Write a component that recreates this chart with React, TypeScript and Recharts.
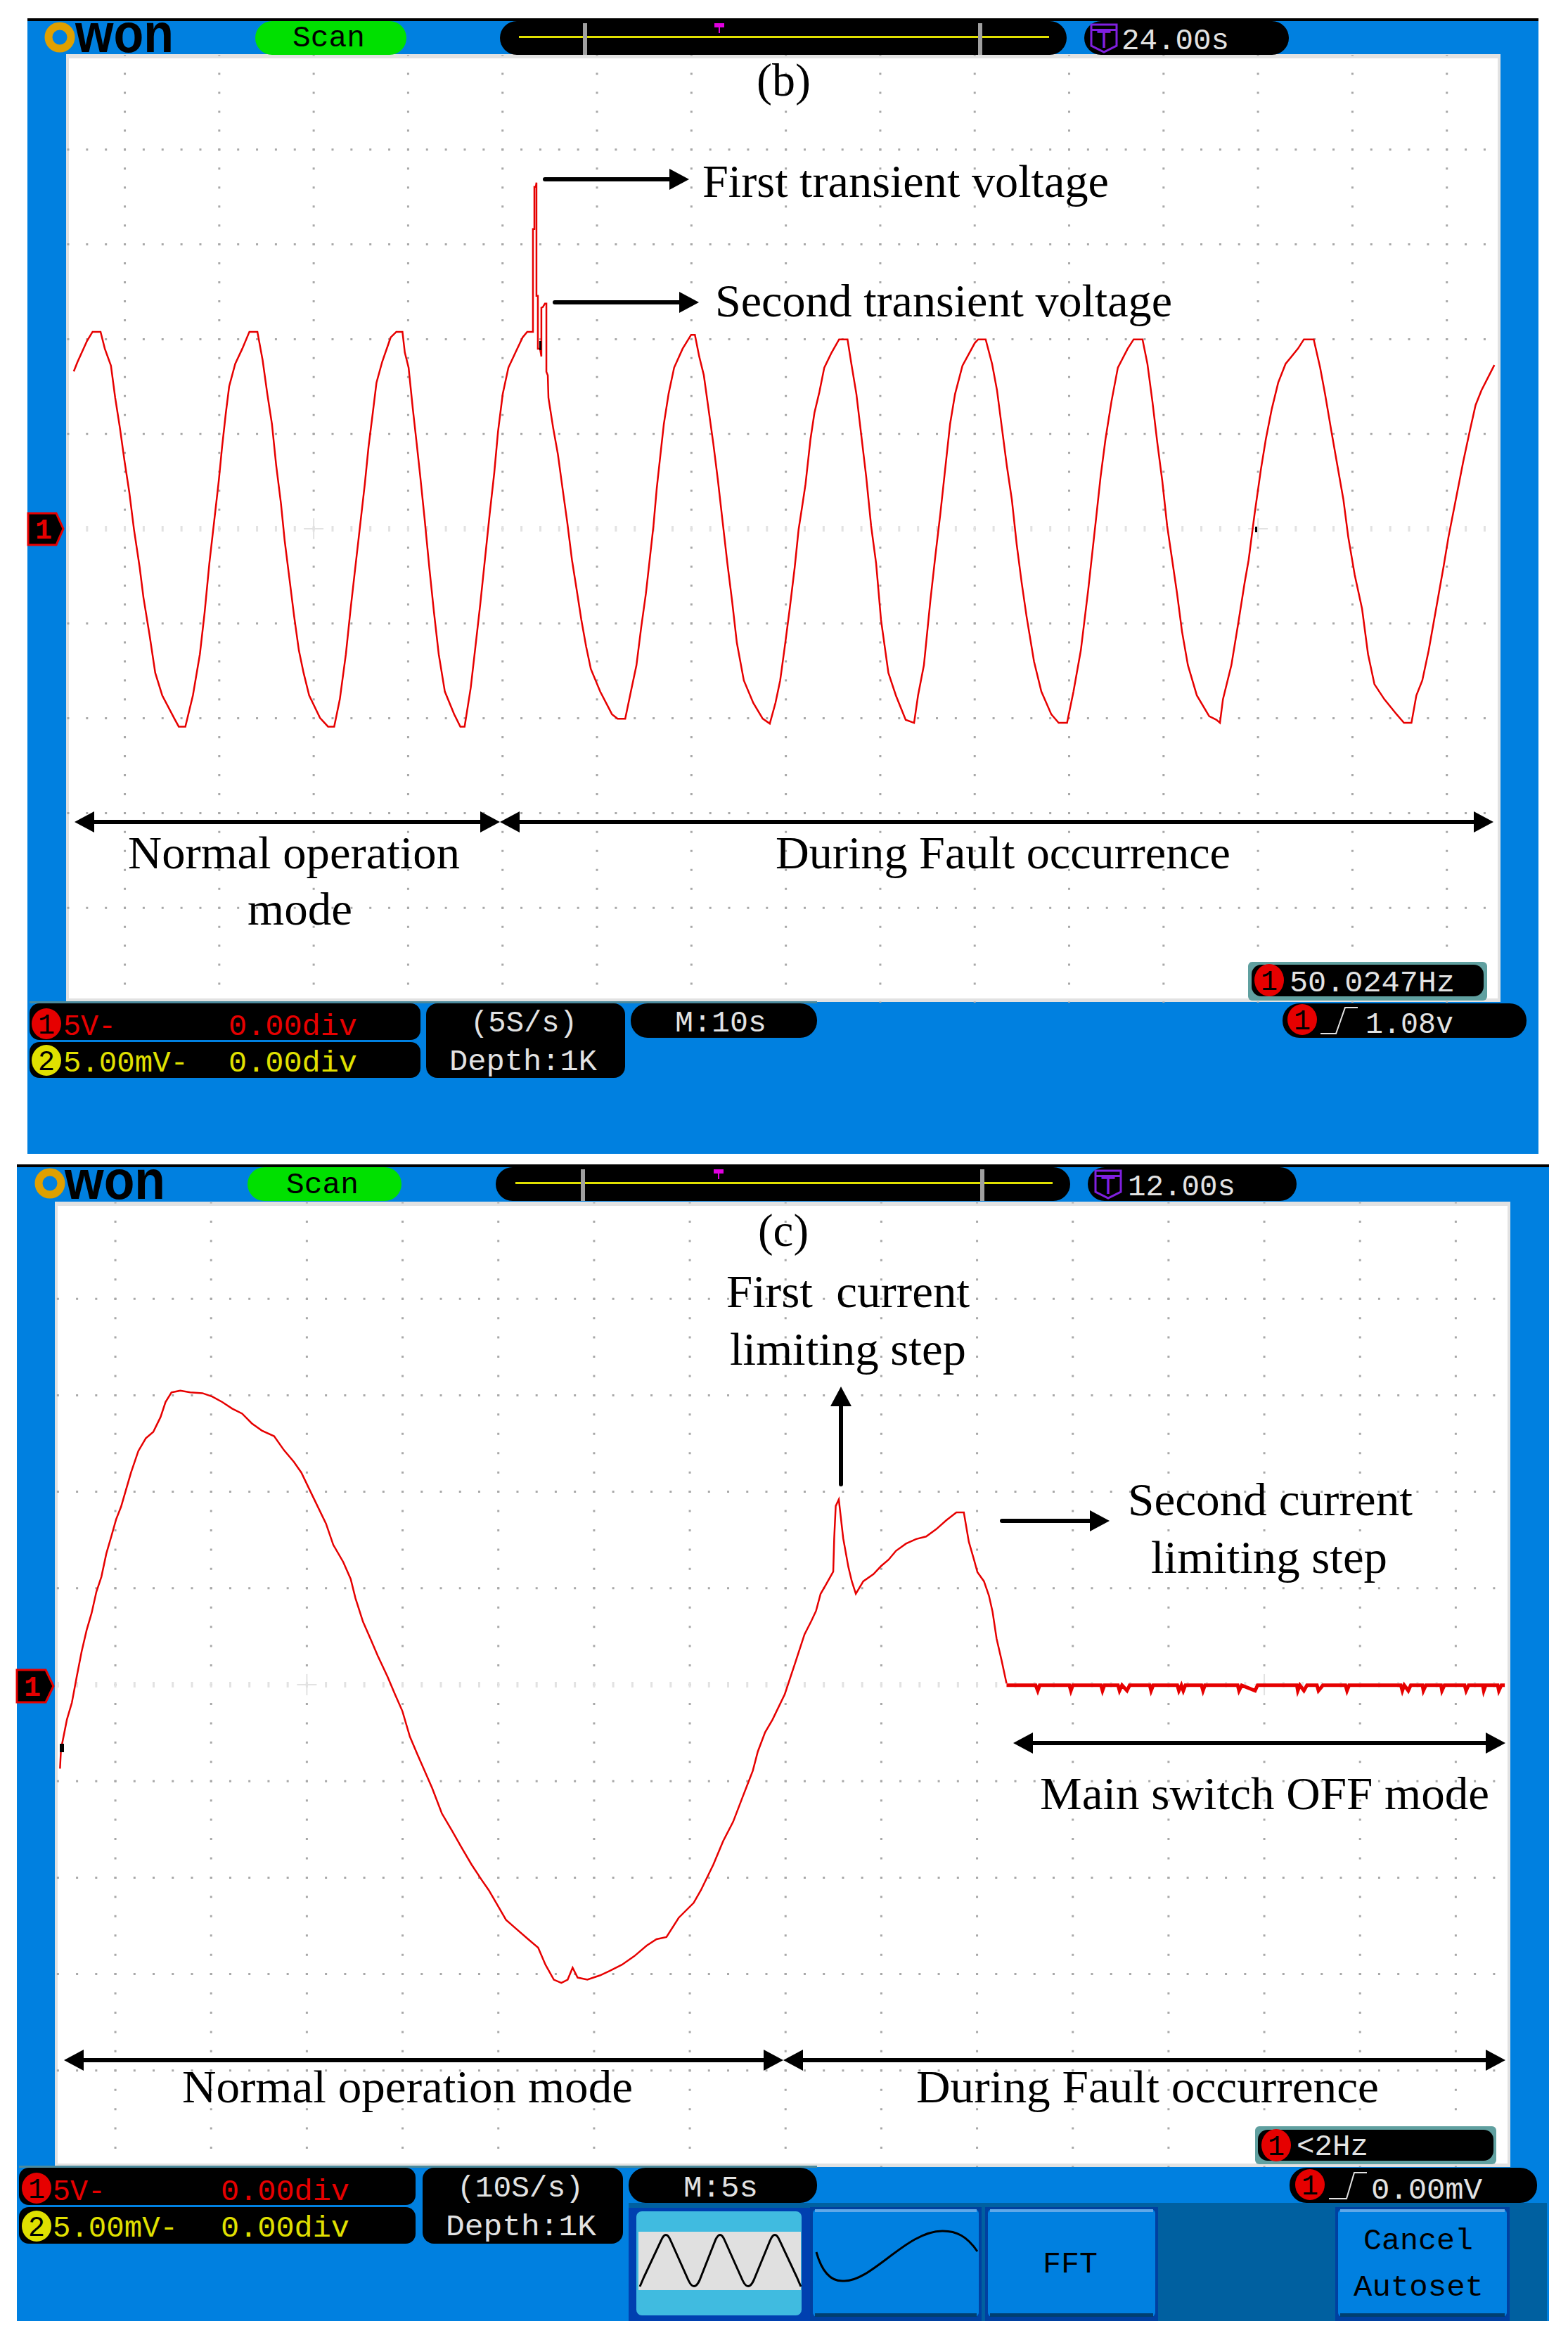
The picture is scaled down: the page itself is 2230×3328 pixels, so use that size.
import { LineChart, Line, XAxis, YAxis, CartesianGrid, ReferenceLine } from "recharts";

// panel (b): [seconds, volts]
const normalTraceB = [
  [0.81, 8.3], [1.21, 8.8], [2.21, 9.9], [2.8, 10.39], [3.65, 10.39], [4.1, 9.5], [4.75, 8.6], [5.2, 6.91], [5.7, 5.32], [6.2, 3.53],
  [6.69, 1.94], [7.19, -0.04], [7.79, -2.03], [8.19, -3.62], [8.84, -5.61], [9.44, -7.6], [10.18, -8.79], [11.43, -9.98], [11.93, -10.44], [12.63, -10.44],
  [13.43, -8.79], [14.17, -6.61], [14.67, -4.42], [15.17, -1.83], [15.67, 0.35], [16.17, 2.54], [16.52, 4.33], [16.92, 6.12], [17.27, 7.51], [17.91, 8.7],
  [18.66, 9.5], [19.41, 10.39], [20.26, 10.39], [20.81, 8.9], [21.31, 7.11], [21.8, 5.52], [22.25, 3.33], [22.75, 1.35], [23.15, -0.64], [23.65, -2.63],
  [24.15, -4.62], [24.65, -6.41], [25.15, -7.6], [25.74, -8.79], [26.89, -9.98], [27.74, -10.44], [28.39, -10.44], [28.99, -8.99], [29.63, -6.61], [30.13, -4.22],
  [30.63, -2.03], [31.13, 0.15], [31.63, 2.34], [32.03, 4.33], [32.48, 6.12], [32.87, 7.71], [33.47, 8.8], [34.37, 10.09], [34.97, 10.39], [35.62, 10.39],
  [35.87, 9.3], [36.27, 8.5], [36.72, 6.32], [37.12, 4.53], [37.51, 2.74], [37.96, 0.55], [38.46, -2.03], [38.96, -4.42], [39.46, -6.61], [40.11, -8.59],
  [41.1, -9.79], [41.75, -10.44], [42.2, -10.44], [42.85, -8.39], [43.35, -6.21], [43.85, -4.02], [44.35, -1.64], [44.85, 0.75], [45.34, 2.94], [45.74, 5.12],
  [46.24, 7.11], [46.84, 8.5], [47.59, 9.3], [48.34, 10.09], [48.83, 10.39],
];
const spikeTraceB = [
  [49.44, 10.39], [49.44, 15.81], [49.59, 15.81], [49.59, 18.04], [49.74, 18.04], [49.81, 18.26], [49.81, 12.29], [49.96, 12.29], [49.96, 9.5], [50.19, 9.5],
  [50.33, 9.09], [50.33, 11.66], [50.48, 11.69], [50.71, 11.88], [50.86, 11.88], [50.86, 8.28], [51.01, 8.09],
];
const faultTraceB = [
  [51.08, 6.91], [51.58, 5.32], [52.08, 3.93], [52.57, 2.14], [53.07, 0.35], [53.57, -1.64], [54.07, -3.22], [54.57, -4.82], [55.07, -6.21], [55.57, -7.4],
  [56.56, -8.59], [57.81, -9.79], [58.41, -10.02], [59.21, -10.02], [59.81, -8.59], [60.4, -7.2], [60.9, -5.21], [61.4, -3.42], [61.8, -1.64], [62.2, 0.15],
  [62.55, 2.14], [62.9, 3.73], [63.3, 5.52], [63.8, 7.11], [64.39, 8.5], [65.29, 9.5], [66.19, 10.23], [66.59, 10.23], [67.04, 9.1], [67.53, 8.11],
  [68.03, 6.32], [68.53, 4.53], [69.03, 2.54], [69.53, 0.35], [70.03, -1.83], [70.53, -3.82], [71.03, -6.01], [71.77, -8.0], [72.77, -9.19], [73.77, -10.02],
  [74.52, -10.28], [75.12, -9.19], [75.62, -8.0], [76.11, -6.21], [76.63, -4.22], [77.16, -2.03], [77.57, -0.04], [77.94, 1.15], [78.3, 2.34], [78.83, 4.73],
  [79.25, 6.12], [79.77, 7.21], [80.29, 8.5], [81.07, 9.3], [81.86, 9.99], [82.75, 9.99], [83.16, 8.7], [83.69, 7.11], [84.21, 4.93], [84.73, 2.74],
  [85.25, 0.15], [85.78, -1.83], [86.3, -4.82], [87.08, -7.6], [87.87, -8.79], [88.91, -10.08], [89.8, -10.24], [90.22, -8.79], [90.84, -7.2], [91.52, -3.82],
  [92.05, -1.44], [92.57, 0.75], [93.09, 3.14], [93.61, 5.52], [94.14, 7.11], [94.92, 8.6], [96.23, 9.8], [96.59, 9.99], [97.38, 9.99], [98.06, 8.7],
  [98.58, 7.31], [99.1, 5.32], [99.62, 3.33], [100.15, 1.55], [100.67, -0.84], [101.19, -2.83], [101.71, -4.62], [102.5, -7.0], [103.28, -8.59], [104.33, -9.79],
  [105.11, -10.24], [106.0, -10.24], [106.68, -8.59], [107.46, -6.41], [108.24, -3.22], [109.03, 0.35], [109.55, 2.74], [110.07, 4.73], [110.7, 6.71], [111.38, 8.5],
  [112.42, 9.5], [113.05, 9.99], [113.99, 9.99], [114.51, 8.7], [115.04, 6.71], [115.56, 4.53], [116.08, 2.54], [116.6, 0.15], [117.13, -1.64], [117.65, -3.42],
  [118.17, -5.41], [118.8, -7.2], [119.74, -8.79], [121.05, -9.89], [121.83, -10.08], [122.19, -10.24], [122.51, -8.99], [123.4, -7.2], [124.18, -4.82], [124.81, -2.83],
  [125.23, -1.64], [125.85, 0.75], [126.53, 3.14], [127.05, 4.73], [127.68, 6.32], [128.36, 7.71], [129.14, 8.7], [130.45, 9.5], [131.08, 9.99], [132.12, 9.99],
  [132.8, 8.5], [133.32, 7.11], [134.0, 5.12], [134.63, 3.33], [135.26, 1.55], [135.78, -0.44], [136.46, -2.43], [137.24, -4.22], [137.87, -6.61], [138.55, -8.2],
  [139.59, -8.99], [140.9, -9.79], [141.68, -10.24], [142.47, -10.24], [142.99, -8.79], [143.62, -8.0], [144.3, -6.41], [145.08, -4.22], [145.86, -2.03], [146.39, -0.44],
  [147.17, 1.55], [147.95, 3.53], [148.63, 5.12], [149.26, 6.52], [149.89, 7.31], [151.25, 8.64],
];

// panel (c): [seconds, volts]
const normalTraceC = [
  [0.27, -4.35], [0.32, -3.36], [0.63, -1.81], [0.89, -0.93], [1.14, 0.4], [1.4, 1.72], [1.66, 2.83], [1.92, 3.71], [2.17, 4.82], [2.43, 5.59],
  [2.69, 6.8], [2.95, 7.69], [3.2, 8.57], [3.46, 9.23], [3.72, 10.12], [3.98, 11.0], [4.36, 12.11], [4.75, 12.77], [5.14, 13.1], [5.52, 13.87],
  [5.78, 14.65], [6.09, 15.15], [6.55, 15.24], [7.07, 15.15], [7.71, 15.11], [8.23, 14.93], [8.74, 14.65], [9.26, 14.31], [9.78, 14.05], [10.29, 13.54],
  [10.81, 13.17], [11.45, 12.88], [11.97, 12.15], [12.48, 11.55], [12.87, 11.0], [13.51, 9.68], [14.16, 8.35], [14.54, 7.25], [15.06, 6.36], [15.45, 5.48],
  [15.7, 4.48], [16.09, 3.27], [16.48, 2.39], [16.86, 1.5], [17.38, 0.4], [17.76, -0.49], [18.15, -1.37], [18.54, -2.69], [18.92, -3.58], [19.31, -4.46],
  [19.7, -5.35], [20.21, -6.67], [20.73, -7.55], [21.24, -8.44], [21.76, -9.32], [22.27, -10.09], [22.66, -10.65], [23.05, -11.31], [23.56, -12.19], [24.08, -12.64],
  [24.72, -13.19], [25.24, -13.63], [25.62, -14.51], [26.06, -15.29], [26.45, -15.46], [26.78, -15.29], [27.04, -14.67], [27.3, -15.18], [27.81, -15.29], [28.46, -15.07],
  [28.97, -14.84], [29.62, -14.51], [30.26, -14.07], [30.91, -13.52], [31.42, -13.19], [31.94, -13.08], [32.58, -12.08], [33.36, -11.31], [33.74, -10.65], [34.39, -9.32],
  [34.9, -8.11], [35.42, -7.11], [35.93, -5.79], [36.45, -4.46], [36.71, -3.47], [37.09, -2.47], [37.48, -1.81], [38.12, -0.49], [38.64, 1.06], [39.15, 2.61],
  [39.49, 3.27], [39.75, 3.82],
];
const limitingTraceC = [
  [39.99, 4.71], [40.26, 5.17], [40.65, 5.86], [40.7, 7.59], [40.78, 9.26], [40.94, 9.6], [41.17, 7.59], [41.44, 6.1], [41.62, 5.36], [41.83, 4.71],
  [42.22, 5.36], [42.75, 5.73], [43.14, 6.14], [43.54, 6.48], [43.93, 6.94], [44.45, 7.31], [44.98, 7.55], [45.5, 7.68], [46.03, 8.06], [46.55, 8.52],
  [47.08, 8.93], [47.47, 8.93], [47.73, 7.41], [48.0, 6.48], [48.18, 5.83], [48.52, 5.36], [48.78, 4.62], [48.97, 3.78], [49.18, 2.39], [49.44, 1.27], [49.7, 0.06],
];
const offTraceC = [
  [49.7, -0.03], [51.22, -0.03], [51.33, -0.31], [51.43, -0.03], [52.98, -0.03], [53.06, -0.31], [53.16, -0.03], [54.63, -0.03], [54.71, -0.31], [54.81, -0.03],
  [55.52, -0.03], [55.6, -0.31], [55.73, -0.03], [55.99, -0.31], [56.13, -0.03], [57.18, -0.03], [57.25, -0.31], [57.36, -0.03], [58.62, -0.03], [58.7, -0.31],
  [58.83, -0.03], [58.93, -0.31], [59.04, -0.03], [59.88, -0.03], [59.96, -0.31], [60.06, -0.03], [61.77, -0.03], [61.84, -0.31], [61.98, -0.03], [62.68, -0.31],
  [62.81, -0.03], [64.86, -0.03], [64.91, -0.31], [65.02, -0.03], [65.23, -0.31], [65.39, -0.03], [65.91, -0.03], [65.99, -0.31], [66.22, -0.03], [67.4, -0.03],
  [67.48, -0.31], [67.59, -0.03], [70.29, -0.03], [70.37, -0.31], [70.47, -0.03], [70.68, -0.31], [70.81, -0.03], [71.42, -0.03], [71.47, -0.31], [71.6, -0.03],
  [72.39, -0.03], [72.44, -0.31], [72.57, -0.03], [73.62, -0.03], [73.7, -0.31], [73.83, -0.03], [74.57, -0.03], [74.62, -0.31], [74.72, -0.03], [75.35, -0.03],
  [75.41, -0.31], [75.54, -0.03], [75.72, -0.03],
];

const rows = (pairs: number[][]) => pairs.map(([t, v]) => ({ t, v }));
const range = (start: number, step: number, count: number) =>
  Array.from({ length: count }, (_, i) => +(start + i * step).toFixed(3));

const voltTicks = range(-24, 1, 49);
const voltMajors = [-20, -15, -10, -5, 5, 10, 15, 20];

const BLUE = "#0080e0";
const RED = "#e60000";
const YELLOW = "#e0e000";
const PALE = "#e2e2e2";
const MONO = "'Liberation Mono', monospace";
const SERIF = "'Liberation Serif', serif";

function ScopeScreen({ x, y, w, h, xMax, base, step, crosses, children }: any) {
  const minorStep = step / 5;
  const majors = range(base, step, Math.floor((xMax - base) / step) + 1);
  const first = base % minorStep;
  const minors = range(first, minorStep, Math.floor((xMax - first) / minorStep) + 1);
  const xPeriod = (w / xMax) * minorStep;
  const yPeriod = h / 50;
  const xOffset = xPeriod - ((first / xMax) * w - 1.5);
  const isMajor = (t: number) => majors.some((m) => Math.abs(m - t) < 0.01);

  const xRuler = (dir: number) => (p: any) => {
    const len = isMajor(p.payload.value) ? 19 : 11;
    return <line x1={p.x} x2={p.x} y1={p.y} y2={p.y + dir * len} stroke={PALE} strokeWidth={2} />;
  };
  const yRuler = (dir: number, major: number, minor: number) => (p: any) => {
    const len = p.payload.value === 0 || voltMajors.includes(p.payload.value) ? major : minor;
    return <line x1={p.x} x2={p.x + dir * len} y1={p.y} y2={p.y} stroke={PALE} strokeWidth={2} />;
  };

  return (
    <div style={{ position: "absolute", left: x, top: y }}>
      <LineChart width={w} height={h} margin={{ top: 0, right: 0, bottom: 0, left: 0 }}>
        <XAxis xAxisId={0} orientation="bottom" type="number" dataKey="t" domain={[0, xMax]} ticks={minors} interval={0} height={0}
          tickSize={0} tickMargin={0} axisLine={false} tickLine={false} tick={xRuler(-1)} />
        <XAxis xAxisId="top" orientation="top" type="number" dataKey="t" domain={[0, xMax]} ticks={minors} interval={0} height={0}
          tickSize={0} tickMargin={0} axisLine={false} tickLine={false} tick={xRuler(1)} />
        <YAxis yAxisId={0} orientation="left" type="number" domain={[-25, 25]} ticks={voltTicks} interval={0} width={0}
          tickSize={0} tickMargin={0} axisLine={false} tickLine={false} tick={yRuler(1, 19, 12)} />
        <YAxis yAxisId="right" orientation="right" type="number" domain={[-25, 25]} ticks={voltTicks} interval={0} width={0}
          tickSize={0} tickMargin={0} axisLine={false} tickLine={false} tick={yRuler(-1, 24, 14)} />
        <CartesianGrid vertical={false} horizontalValues={voltMajors} stroke="#a8a8a8" strokeWidth={3}
          strokeDasharray={`3 ${xPeriod - 3}`} strokeDashoffset={xOffset} />
        <CartesianGrid horizontal={false} verticalValues={majors} stroke="#a8a8a8" strokeWidth={3}
          strokeDasharray={`3 ${yPeriod - 3}`} strokeDashoffset={1.5} />
        <ReferenceLine y={0} stroke={PALE} strokeWidth={8} strokeDasharray={`3 ${xPeriod - 3}`} strokeDashoffset={xOffset} />
        {crosses.map((c: number) => (
          <ReferenceLine key={`h${c}`} segment={[{ x: c - (14 / w) * xMax, y: 0 }, { x: c + (14 / w) * xMax, y: 0 }]} stroke={PALE} strokeWidth={2} />
        ))}
        {crosses.map((c: number) => (
          <ReferenceLine key={`v${c}`} segment={[{ x: c, y: -0.55 }, { x: c, y: 0.55 }]} stroke={PALE} strokeWidth={2} />
        ))}
        {children}
      </LineChart>
    </div>
  );
}

function Label({ x, y, w, children, fill = "#000", size = 42, font = MONO, weight = 400 }: any) {
  return (
    <text x={x} y={y} fill={fill} fontFamily={font} fontSize={size} fontWeight={weight} textLength={w} lengthAdjust="spacingAndGlyphs" style={{ whiteSpace: "pre" }}>
      {children}
    </text>
  );
}

const Note = ({ x, y, w, children }: any) => (
  <Label x={x} y={y} w={w} size={66} font={SERIF}>{children}</Label>
);

function HArrow({ x1, x2, y, both }: any) {
  const head = 28;
  return (
    <g fill="#000">
      <line x1={both ? x1 + 10 : x1} x2={x2 - 10} y1={y} y2={y} stroke="#000" strokeWidth={6} strokeLinecap={both ? "butt" : "round"} />
      <polygon points={`${x2},${y} ${x2 - head},${y - 15} ${x2 - head},${y + 15}`} />
      {both && <polygon points={`${x1},${y} ${x1 + head},${y - 15} ${x1 + head},${y + 15}`} />}
    </g>
  );
}

function UpArrow({ x, y1, y2 }: any) {
  return (
    <g fill="#000">
      <line x1={x} x2={x} y1={y1} y2={y2 + 10} stroke="#000" strokeWidth={6} strokeLinecap="round" />
      <polygon points={`${x},${y2} ${x - 15},${y2 + 28} ${x + 15},${y2 + 28}`} />
    </g>
  );
}

const Pill = ({ x, y, w, h, r = 22, fill = "#000" }: any) => <rect x={x} y={y} width={w} height={h} rx={r} ry={r} fill={fill} />;

function Badge({ cx, cy, rx = 21, ry = 22, fill = RED, n = "1" }: any) {
  return (
    <g>
      <ellipse cx={cx} cy={cy} rx={rx} ry={ry} fill={fill} />
      <text x={cx} y={cy + 14} textAnchor="middle" fontFamily={MONO} fontSize={40} fill="#000">{n}</text>
    </g>
  );
}

function Logo({ cx, cy, x, base, w }: any) {
  return (
    <g>
      <ellipse cx={cx} cy={cy} rx={16} ry={16} fill="none" stroke="#e0a000" strokeWidth={11} />
      <Label x={x} y={base} w={w} size={78} weight={700} font="'Liberation Sans', sans-serif">won</Label>
    </g>
  );
}

function TopBar({ left, right, y, logo, scan, scanText, track, line, marks, marker, tPill, shield, time, timeText }: any) {
  const top = y + 4;
  const h = 48;
  return (
    <g>
      <rect x={left} y={y} width={right - left} height={4} fill="#000" />
      <Logo {...logo} />
      <Pill x={scan[0]} y={top} w={scan[1]} h={h} r={24} fill="#00e000" />
      <Label x={scanText[0]} y={scanText[1]} w={103}>Scan</Label>
      <Pill x={track[0]} y={top} w={track[1]} h={h} r={24} />
      <rect x={line[0]} y={top + 21} width={line[1]} height={3} fill={YELLOW} />
      {marks.map((m: number) => <rect key={m} x={m} y={top + 3} width={6} height={h - 3} fill="#a0a0a0" />)}
      <rect x={marker - 7} y={top + 3} width={14} height={6} fill="#e000e0" />
      <rect x={marker - 1} y={top + 3} width={2} height={14} fill="#e000e0" />
      <Pill x={tPill[0]} y={top} w={tPill[1]} h={h} r={24} />
      <path d={`M${shield} ${top + 5} h36 v30 l-18 9 l-18 -9 z`} fill="#000" stroke="#8020e0" strokeWidth={3} />
      <rect x={shield} y={top + 11} width={36} height={3} fill="#8020e0" />
      <text x={shield + 18} y={top + 38} textAnchor="middle" fontFamily={MONO} fontSize={36} fill="#8020e0">T</text>
      <Label x={time} y={top + 40} w={153} fill={PALE}>{timeText}</Label>
    </g>
  );
}

function Channels({ x, w, y1, y2, y3, col1, col2, b1, b2, c1, c2, centerX, centerW, rate, depth, rateB, depthB, m, mB, mPill, badgeX }: any) {
  return (
    <g>
      <rect x={x} y={y1 - 3} width={mPill[0] + mPill[1] - x} height={3} fill="#4c8a9c" />
      <Pill x={x} y={y1} w={w} h={y2 - y1 - 3} r={14} />
      <Pill x={x} y={y2} w={w} h={y3 - y2} r={14} />
      <Pill x={centerX} y={y1} w={centerW} h={y3 - y1} r={16} />
      <Pill x={mPill[0]} y={y1} w={mPill[1]} h={mPill[2]} r={24} />
      <Badge cx={badgeX} cy={c1} />
      <Badge cx={badgeX} cy={c2} fill={YELLOW} n="2" />
      <Label x={col1} y={b1} w={75} fill={RED}>5V-</Label>
      <Label x={col2} y={b1} w={183} fill={RED}>0.00div</Label>
      <Label x={col1} y={b2} w={178} fill={YELLOW}>5.00mV-</Label>
      <Label x={col2} y={b2} w={183} fill={YELLOW}>0.00div</Label>
      <Label x={rate[0]} y={rateB} w={rate[1]} fill={PALE}>{rate[2]}</Label>
      <Label x={depth[0]} y={depthB} w={depth[1]} fill={PALE}>Depth:1K</Label>
      <Label x={m[0]} y={mB} w={m[1]} fill={PALE}>{m[2]}</Label>
    </g>
  );
}

function Chrome() {
  return (
    <svg width={2230} height={3328} style={{ position: "absolute", left: 0, top: 0 }}>
      {/* panel (b) */}
      <TopBar left={39} right={2188} y={26} logo={{ cx: 85, cy: 53, x: 107, base: 74, w: 140 }} scan={[363, 215]} scanText={[416, 66]}
        track={[711, 806]} line={[738, 754]} marks={[829, 1391]} marker={1023} tPill={[1542, 291]} shield={1552} time={1595} timeText="24.00s" />
      <polygon points="40,730 80,730 90,752 80,775 40,775" fill="#000" stroke={RED} strokeWidth={3} />
      <text x={62} y={766} textAnchor="middle" fontFamily={MONO} fontSize={40} fontWeight={700} fill={RED}>1</text>
      <rect x={767} y={485} width={3} height={13} fill="#000" />
      <rect x={1785} y={749} width={3} height={8} fill="#000" />
      <Note x={1076} y={136} w={77}>(b)</Note>
      <HArrow x1={775} x2={980} y={255} />
      <Note x={999} y={280} w={578}>First transient voltage</Note>
      <HArrow x1={789} x2={994} y={430} />
      <Note x={1017} y={450} w={650}>Second transient voltage</Note>
      <HArrow x1={106} x2={711} y={1169} both />
      <HArrow x1={711} x2={2124} y={1169} both />
      <Note x={182} y={1235} w={472}>Normal operation</Note>
      <Note x={352} y={1315} w={149}>mode</Note>
      <Note x={1103} y={1235} w={647}>During Fault occurrence</Note>
      <rect x={1775} y={1368} width={340} height={55} rx={6} fill="#60a0a0" />
      <Pill x={1780} y={1372} w={330} h={45} r={14} />
      <Badge cx={1805} cy={1394} ry={23} />
      <Label x={1834} y={1410} w={235} fill={PALE}>50.0247Hz</Label>
      <Channels x={42} w={556} y1={1427} y2={1482} y3={1533} col1={90} col2={325} b1={1472} b2={1524} c1={1456} c2={1508} badgeX={66}
        centerX={606} centerW={283} rate={[669, 152, "(5S/s)"]} rateB={1467} depth={[639, 210]} depthB={1522} m={[960, 130, "M:10s"]} mB={1467} mPill={[897, 265, 49]} />
      <Pill x={1824} y={1427} w={347} h={49} r={24} />
      <Badge cx={1852} cy={1450} />
      <polyline points="1878,1470 1900,1470 1913,1433 1931,1433" fill="none" stroke={PALE} strokeWidth={2} />
      <Label x={1942} y={1469} w={125} fill={PALE}>1.08v</Label>

      {/* panel (c) */}
      <TopBar left={24} right={2203} y={1656} logo={{ cx: 71, cy: 1683, x: 92, base: 1705, w: 143 }} scan={[352, 219]} scanText={[407, 1697]}
        track={[705, 817]} line={[733, 764]} marks={[826, 1394]} marker={1022} tPill={[1547, 297]} shield={1558} time={1604} timeText="12.00s" />
      <polygon points="24,2375 65,2375 76,2398 65,2421 24,2421" fill="#000" stroke={RED} strokeWidth={3} />
      <text x={46} y={2412} textAnchor="middle" fontFamily={MONO} fontSize={40} fontWeight={700} fill={RED}>1</text>
      <rect x={85} y={2480} width={6} height={12} fill="#000" />
      <Note x={1078} y={1772} w={72}>(c)</Note>
      <Note x={1033} y={1859} w={346}>First  current</Note>
      <Note x={1038} y={1941} w={336}>limiting step</Note>
      <UpArrow x={1196} y1={2111} y2={1972} />
      <HArrow x1={1425} x2={1578} y={2163} />
      <Note x={1604} y={2155} w={405}>Second current</Note>
      <Note x={1637} y={2237} w={336}>limiting step</Note>
      <HArrow x1={1441} x2={2141} y={2479} both />
      <Note x={1479} y={2573} w={639}>Main switch OFF mode</Note>
      <HArrow x1={91} x2={1114} y={2930} both />
      <HArrow x1={1114} x2={2141} y={2930} both />
      <Note x={259} y={2990} w={641}>Normal operation mode</Note>
      <Note x={1303} y={2990} w={658}>During Fault occurrence</Note>
      <rect x={1785} y={3024} width={343} height={54} rx={6} fill="#60a0a0" />
      <Pill x={1789} y={3029} w={335} h={44} r={14} />
      <Badge cx={1815} cy={3051} ry={23} />
      <Label x={1844} y={3065} w={102} fill={PALE}>{"<2Hz"}</Label>

      <rect x={894} y={3133} width={1306} height={168} fill="#0060a0" />
      <rect x={894} y={3140} width={258} height={161} fill="#0040b0" />
      <rect x={905} y={3145} width={235} height={148} rx={8} fill="#40bbe0" />
      <rect x={908} y={3174} width={231} height={83} fill="#e0e0e0" />
      <path d="M910 3252 L916 3238 L940 3187 Q947 3170 954 3187 L979 3243 Q987 3260 995 3243 L1017 3187 Q1024 3170 1031 3187 L1056 3243 Q1064 3260 1072 3243 L1095 3187 Q1102 3170 1109 3187 L1133 3238 L1139 3252"
        fill="none" stroke="#000" strokeWidth={3} />
      {[[1156, 236], [1405, 238], [1903, 240]].map(([bx, bw]) => (
        <g key={bx}>
          <rect x={bx - 4} y={3139} width={bw + 8} height={162} fill="#0040a0" />
          <rect x={bx} y={3142} width={bw} height={153} rx={6} fill={BLUE} />
          <rect x={bx + 3} y={3142} width={bw - 6} height={4} fill="#60a8e8" />
          <rect x={bx + 3} y={3290} width={bw - 6} height={5} fill="#003f70" />
        </g>
      ))}
      <path d="M1161 3203 C1170 3235 1185 3245 1200 3244 C1240 3245 1290 3172 1341 3173 C1360 3173 1375 3180 1390 3202" fill="none" stroke="#000" strokeWidth={3} />
      <Label x={1483} y={3232} w={78}>FFT</Label>
      <Label x={1939} y={3199} w={156}>Cancel</Label>
      <Label x={1925} y={3265} w={185}>Autoset</Label>

      <Channels x={27} w={564} y1={3083} y2={3139} y3={3191} col1={75} col2={314} b1={3129} b2={3181} c1={3112} c2={3166} badgeX={52}
        centerX={601} centerW={285} rate={[650, 180, "(10S/s)"]} rateB={3124} depth={[634, 214]} depthB={3179} m={[972, 106, "M:5s"]} mB={3124} mPill={[894, 268, 50]} />
      <Pill x={1834} y={3083} w={352} h={50} r={24} />
      <Badge cx={1863} cy={3107} />
      <polyline points="1890,3127 1915,3127 1926,3090 1944,3090" fill="none" stroke={PALE} strokeWidth={2} />
      <Label x={1950} y={3127} w={158} fill={PALE}>0.00mV</Label>
    </svg>
  );
}

function Backplate() {
  const box = (x: number, y: number, w: number, h: number, extra: any) => (
    <div style={{ position: "absolute", left: x, top: y, width: w, height: h, boxSizing: "border-box", ...extra }} />
  );
  return (
    <>
      {box(39, 27, 2149, 1614, { background: BLUE })}
      {box(94, 77, 2040, 1348, { background: "#fff", borderStyle: "solid", borderColor: PALE, borderWidth: "6px 4px 5px 4px" })}
      {box(24, 1657, 2179, 1644, { background: BLUE })}
      {box(78, 1709, 2070, 1373, { background: "#fff", borderStyle: "solid", borderColor: PALE, borderWidth: "6px 4px 5px 4px" })}
    </>
  );
}

export default function App() {
  return (
    <div style={{ position: "absolute", left: 0, top: 0, width: 2230, height: 3328, background: "#fff", overflow: "hidden" }}>
      <Backplate />
      <ScopeScreen x={94} y={78} w={2040} h={1348} xMax={151.9} base={6.22} step={10} crosses={[26.22, 126.22]}>
        <Line data={rows([...normalTraceB, ...spikeTraceB, ...faultTraceB])} dataKey="v" type="linear" stroke={RED} strokeWidth={2.5}
          dot={false} isAnimationActive={false} />
      </ScopeScreen>
      <ScopeScreen x={78} y={1710} w={2070} h={1372} xMax={76.01} base={3.16} step={5} crosses={[13.16, 63.16]}>
        <Line data={rows([...normalTraceC, ...limitingTraceC])} dataKey="v" type="linear" stroke={RED} strokeWidth={2.5}
          dot={false} isAnimationActive={false} />
        <Line data={rows(offTraceC)} dataKey="v" type="linear" stroke={RED} strokeWidth={5}
          dot={false} isAnimationActive={false} />
      </ScopeScreen>
      <Chrome />
    </div>
  );
}
